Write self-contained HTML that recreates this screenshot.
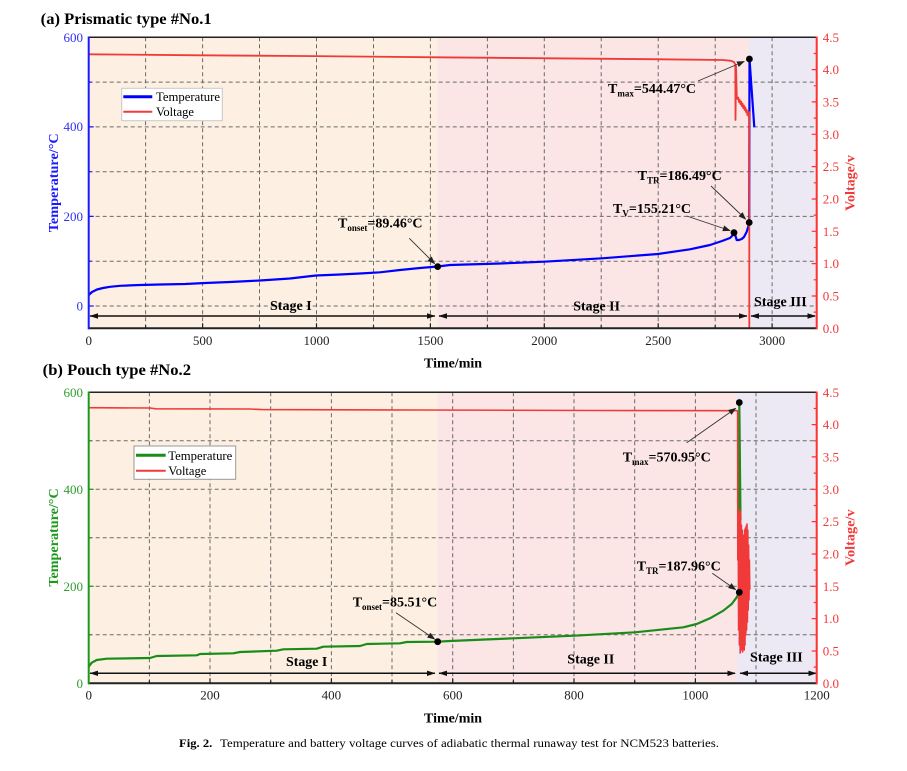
<!DOCTYPE html>
<html><head><meta charset="utf-8"><style>
html,body{margin:0;padding:0;background:#fff;}
svg{display:block;}
text{font-family:"Liberation Serif","DejaVu Serif",serif;}
.b{font-weight:bold;}
</style></head><body>
<svg width="907" height="771" viewBox="0 0 907 771" xmlns="http://www.w3.org/2000/svg">
<defs>
<marker id="ah" markerUnits="userSpaceOnUse" markerWidth="8" markerHeight="6" refX="7" refY="3" orient="auto">
<path d="M0,0 L8,3 L0,6 Z" fill="#222"/>
</marker>
</defs>

<!-- ============ TOP CHART ============ -->
<text x="40.7" y="24" class="b" font-size="16" textLength="171" lengthAdjust="spacingAndGlyphs">(a) Prismatic type #No.1</text>
<!-- backgrounds -->
<rect x="88.7" y="37.3" width="348.6" height="291" fill="#fdf0e2"/>
<rect x="437.3" y="37.3" width="311.7" height="291" fill="#fbe5e5"/>
<rect x="749" y="37.3" width="67.7" height="291" fill="#ede9f4"/>
<!-- grid -->
<g stroke="#6a6a6a" stroke-width="1" stroke-dasharray="4,3" fill="none">
<path d="M145.6,37.3V328.3M202.6,37.3V328.3M259.5,37.3V328.3M316.5,37.3V328.3M373.5,37.3V328.3M430.4,37.3V328.3M487.4,37.3V328.3M544.3,37.3V328.3M601.2,37.3V328.3M658.2,37.3V328.3M715.2,37.3V328.3M772.1,37.3V328.3"/>
<path d="M88.7,306H816.7M88.7,261.2H816.7M88.7,216.4H816.7M88.7,171.7H816.7M88.7,126.9H816.7M88.7,82.1H816.7"/>
</g>
<!-- stage arrows -->
<g stroke="#111" stroke-width="1.5"><path d="M90,316H435M439,316H747M751,316H815"/></g>
<g fill="#111">
<polygon points="89.5,316 98,313.3 98,318.7"/><polygon points="435.5,316 427,313.3 427,318.7"/>
<polygon points="438.5,316 447,313.3 447,318.7"/><polygon points="747.5,316 739,313.3 739,318.7"/>
<polygon points="750.5,316 759,313.3 759,318.7"/><polygon points="816,316 807.5,313.3 807.5,318.7"/>
</g>
<text x="270" y="310" class="b" font-size="14" textLength="41.7" lengthAdjust="spacingAndGlyphs">Stage I</text>
<text x="573.3" y="310.5" class="b" font-size="14" textLength="46.7" lengthAdjust="spacingAndGlyphs">Stage II</text>
<text x="754" y="306" class="b" font-size="14" textLength="52.7" lengthAdjust="spacingAndGlyphs">Stage III</text>
<!-- temperature (blue) -->
<path d="M88.7,295 L92,292 L97,289.5 L103,288 L110,286.8 L120,285.8 L140,285 L160,284.5 L185,284 L205,283 L230,282 L260,280.5 L290,278.5 L316,275.5 L340,274.5 L360,273.5 L380,272.3 L400,270 L420,268 L437.7,266.5 L450,265 L500,263.5 L544,261.7 L602,258.3 L658,254 L690,249.3 L710,245 L722,241 L730,238 L733,235 L734.5,233 L735.5,236 L736.7,240 L739,240 L741.7,239 L744,237 L746.7,231.7 L748.5,226 L749.2,222.3 L749.5,59 L754.3,127.3" fill="none" stroke="#0000ff" stroke-width="2.2" stroke-linejoin="round"/>
<!-- voltage (red) -->
<path d="M88.7,54.3 L200,55.3 L300,56 L437,57.3 L550,58.3 L650,59.2 L723,60 L731,60.8 L734,62 L735.3,64.5 L735.5,120 L736,66 L736.8,97 L737.6,99 L738.3,97.5 L739,102 L739.7,100 L740.4,104 L741.1,101.5 L741.8,106 L742.5,103.5 L743.2,108 L743.9,105.5 L744.6,110 L745.3,107.5 L746,112 L746.7,110 L747.4,115 L748.1,112 L748.8,117 L749.3,112 L749.3,328" fill="none" stroke="#f03a3a" stroke-width="1.8" stroke-linejoin="round"/>
<!-- dots -->
<g fill="#000"><circle cx="437.7" cy="266.6" r="3.4"/><circle cx="749.4" cy="59" r="3.4"/><circle cx="749.2" cy="222.5" r="3.4"/><circle cx="734" cy="232.7" r="3.4"/></g>
<!-- annotation arrows -->
<g stroke="#333" stroke-width="0.9" fill="none" marker-end="url(#ah)">
<path d="M409.3,238.3 L434.5,263.5"/>
<path d="M698,81 L744,61.5"/>
<path d="M711,186 L745.5,219"/>
<path d="M686.7,216 L729.8,230.5"/>
</g>
<g class="b" font-size="14">
<text x="338" y="227.5" class="b">T<tspan font-size="9" dy="3.5">onset</tspan><tspan dy="-3.5">=89.46°C</tspan></text>
<text x="608" y="93" class="b">T<tspan font-size="9" dy="3.5">max</tspan><tspan dy="-3.5">=544.47°C</tspan></text>
<text x="637.7" y="180" class="b">T<tspan font-size="9" dy="3.5">TR</tspan><tspan dy="-3.5">=186.49°C</tspan></text>
<text x="613" y="213" class="b">T<tspan font-size="9" dy="3.5">V</tspan><tspan dy="-3.5">=155.21°C</tspan></text>
</g>
<!-- legend -->
<rect x="121.7" y="88.3" width="100.6" height="32.4" fill="#fff" stroke="#c8c8c8" stroke-width="1"/>
<line x1="123.3" y1="96.7" x2="152.3" y2="96.7" stroke="#0000ff" stroke-width="3"/>
<line x1="123.3" y1="111.7" x2="152.3" y2="111.7" stroke="#f03a3a" stroke-width="2"/>
<text x="156" y="101.2" font-size="12.5" textLength="64" lengthAdjust="spacingAndGlyphs">Temperature</text>
<text x="156" y="116.2" font-size="12.5">Voltage</text>
<!-- axes -->
<line x1="88" y1="37.3" x2="817.5" y2="37.3" stroke="#222" stroke-width="1.5"/>
<line x1="88" y1="328.3" x2="817.5" y2="328.3" stroke="#222" stroke-width="2"/>
<line x1="88.7" y1="36.5" x2="88.7" y2="329.3" stroke="#1a1aff" stroke-width="2"/>
<line x1="816.7" y1="36.5" x2="816.7" y2="329.3" stroke="#ff3030" stroke-width="2"/>
<g stroke="#1a1aff" stroke-width="1.2">
<path d="M88.7,306h5M88.7,261.2h3M88.7,216.4h5M88.7,171.7h3M88.7,126.9h5M88.7,82.1h3"/>
</g>
<g stroke="#222" stroke-width="1.2">
<path d="M145.6,328.3v-3M202.6,328.3v-5M259.5,328.3v-3M316.5,328.3v-5M373.5,328.3v-3M430.4,328.3v-5M487.4,328.3v-3M544.3,328.3v-5M601.2,328.3v-3M658.2,328.3v-5M715.2,328.3v-3M772.1,328.3v-5"/>
</g>
<g stroke="#ff3030" stroke-width="1.2">
<path d="M816.7,296h-5M816.7,263.6h-5M816.7,231.3h-5M816.7,199h-5M816.7,166.6h-5M816.7,134.3h-5M816.7,101.9h-5M816.7,69.6h-5M816.7,312.1h-3M816.7,279.8h-3M816.7,247.5h-3M816.7,215.1h-3M816.7,182.8h-3M816.7,150.5h-3M816.7,118.1h-3M816.7,85.8h-3M816.7,53.5h-3"/>
</g>
<g font-size="13" fill="#3030f2" text-anchor="end">
<text x="83" y="41.8">600</text><text x="83" y="131.2">400</text><text x="83" y="221.2">200</text><text x="83" y="310.5">0</text>
</g>
<g font-size="13" fill="#222" text-anchor="middle">
<text x="88.7" y="345">0</text><text x="202.6" y="345">500</text><text x="316.5" y="345">1000</text><text x="430.4" y="345">1500</text><text x="544.3" y="345">2000</text><text x="658.2" y="345">2500</text><text x="772.1" y="345">3000</text>
</g>
<g font-size="13" fill="#f03a3a">
<text x="822.7" y="332.8">0.0</text><text x="822.7" y="300.5">0.5</text><text x="822.7" y="268.1">1.0</text><text x="822.7" y="235.8">1.5</text><text x="822.7" y="203.5">2.0</text><text x="822.7" y="171.1">2.5</text><text x="822.7" y="138.8">3.0</text><text x="822.7" y="106.4">3.5</text><text x="822.7" y="74.1">4.0</text><text x="822.7" y="41.8">4.5</text>
</g>
<text transform="translate(58,182.8) rotate(-90)" text-anchor="middle" class="b" font-size="13.5" fill="#1a1aff" textLength="99" lengthAdjust="spacingAndGlyphs">Temperature/°C</text>
<text transform="translate(854.5,183) rotate(-90)" text-anchor="middle" class="b" font-size="13.5" fill="#f03a3a" textLength="55.7" lengthAdjust="spacingAndGlyphs">Voltage/v</text>
<text x="453" y="367.5" text-anchor="middle" class="b" font-size="14" textLength="58" lengthAdjust="spacingAndGlyphs">Time/min</text>

<!-- ============ BOTTOM CHART ============ -->
<text x="42.7" y="375" class="b" font-size="16" textLength="148.3" lengthAdjust="spacingAndGlyphs">(b) Pouch type #No.2</text>
<rect x="88.7" y="392.3" width="348.6" height="291" fill="#fdf0e2"/>
<rect x="437.3" y="392.3" width="299.7" height="291" fill="#fbe5e5"/>
<rect x="737" y="392.3" width="79.7" height="291" fill="#ede9f4"/>
<g stroke="#6a6a6a" stroke-width="1" stroke-dasharray="4,3" fill="none">
<path d="M149.4,392.3V683.3M210,392.3V683.3M270.7,392.3V683.3M331.4,392.3V683.3M392,392.3V683.3M452.7,392.3V683.3M513.4,392.3V683.3M574,392.3V683.3M634.7,392.3V683.3M695.4,392.3V683.3M756,392.3V683.3"/>
<path d="M88.7,634.8H816.7M88.7,586.3H816.7M88.7,537.8H816.7M88.7,489.3H816.7M88.7,440.8H816.7"/>
</g>
<g stroke="#111" stroke-width="1.5"><path d="M90,673.3H435M439,673.3H735M740,673.3H816"/></g>
<g fill="#111">
<polygon points="89.5,673.3 98,670.6 98,676"/><polygon points="435.5,673.3 427,670.6 427,676"/>
<polygon points="438.5,673.3 447,670.6 447,676"/><polygon points="736,673.3 727.5,670.6 727.5,676"/>
<polygon points="739.5,673.3 748,670.6 748,676"/><polygon points="817,673.3 808.5,670.6 808.5,676"/>
</g>
<text x="286" y="666" class="b" font-size="14" textLength="41.3" lengthAdjust="spacingAndGlyphs">Stage I</text>
<text x="567.3" y="663.3" class="b" font-size="14" textLength="47" lengthAdjust="spacingAndGlyphs">Stage II</text>
<text x="750" y="661.7" class="b" font-size="14" textLength="52.7" lengthAdjust="spacingAndGlyphs">Stage III</text>
<!-- temperature (green) -->
<path d="M88.7,666.7 L91.7,662.7 L96.7,660 L106.7,658.7 L150,658 L156.7,656 L196.7,655.3 L200,654 L233.3,653.3 L240,652 L276.7,650.7 L283.3,649.3 L316.7,648.7 L323.3,646.7 L360,646 L366.7,644 L400,643.3 L406.7,642 L437.7,641.7 L450,641 L513.3,638.3 L574.3,635.7 L635,632.3 L683.3,627.3 L696.7,624 L710,618.3 L723.3,610.7 L731.7,604 L736.7,597.3 L739.3,592.3 L739.3,402.5 L740.5,520" fill="none" stroke="#1a8c1a" stroke-width="2.2" stroke-linejoin="round"/>
<!-- voltage (red) -->
<path d="M88.7,407.7 L150,408 L156,408.8 L250,409 L262,409.6 L420,410 L600,410.5 L737,410.7 L737.6,411 L737.8,560 L738.2,515 L738.6,630 L739,512 L739.4,645 L739.8,510 L740.2,653 L740.6,512 L741,650 L741.4,525 L741.8,640 L742.2,530 L742.6,652 L743,538 L743.4,645 L743.8,535 L744.2,650 L744.6,530 L745,645 L745.4,528 L745.8,635 L746.2,526 L746.6,630 L747,524 L747.4,622 L747.8,530 L748.2,610 L748.6,545 L749,600 L749.4,560 L749.8,590" fill="none" stroke="#f03a3a" stroke-width="1.6" stroke-linejoin="round"/>
<g fill="#000"><circle cx="437.7" cy="641.7" r="3.4"/><circle cx="739.3" cy="402.5" r="3.4"/><circle cx="739.3" cy="592.3" r="3.4"/></g>
<g stroke="#333" stroke-width="0.9" fill="none" marker-end="url(#ah)">
<path d="M396,612.7 L434.5,639"/>
<path d="M686.7,442.7 L735.5,408.5"/>
<path d="M712.3,573.3 L735.5,589.5"/>
</g>
<g font-size="14">
<text x="352.7" y="606.5" class="b">T<tspan font-size="9" dy="3.5">onset</tspan><tspan dy="-3.5">=85.51°C</tspan></text>
<text x="622.7" y="461.5" class="b">T<tspan font-size="9" dy="3.5">max</tspan><tspan dy="-3.5">=570.95°C</tspan></text>
<text x="636.7" y="570.5" class="b">T<tspan font-size="9" dy="3.5">TR</tspan><tspan dy="-3.5">=187.96°C</tspan></text>
</g>
<rect x="134" y="446" width="101.7" height="33.3" fill="#fff" stroke="#999" stroke-width="1"/>
<line x1="136" y1="455.3" x2="165.7" y2="455.3" stroke="#1a8c1a" stroke-width="3"/>
<line x1="136" y1="470.7" x2="165.7" y2="470.7" stroke="#f03a3a" stroke-width="2"/>
<text x="168.3" y="459.8" font-size="12.5" textLength="64" lengthAdjust="spacingAndGlyphs">Temperature</text>
<text x="168.3" y="475.2" font-size="12.5">Voltage</text>
<line x1="88" y1="392.3" x2="817.5" y2="392.3" stroke="#222" stroke-width="1.5"/>
<line x1="88" y1="683.3" x2="817.5" y2="683.3" stroke="#222" stroke-width="2"/>
<line x1="88.7" y1="391.5" x2="88.7" y2="684.3" stroke="#1a9a1a" stroke-width="2"/>
<line x1="816.7" y1="391.5" x2="816.7" y2="684.3" stroke="#ff3030" stroke-width="2"/>
<g stroke="#1a9a1a" stroke-width="1.2">
<path d="M88.7,634.8h3M88.7,586.3h5M88.7,537.8h3M88.7,489.3h5M88.7,440.8h3"/>
</g>
<g stroke="#222" stroke-width="1.2">
<path d="M149.4,683.3v-3M210,683.3v-5M270.7,683.3v-3M331.4,683.3v-5M392,683.3v-3M452.7,683.3v-5M513.4,683.3v-3M574,683.3v-5M634.7,683.3v-3M695.4,683.3v-5M756,683.3v-3"/>
</g>
<g stroke="#ff3030" stroke-width="1.2">
<path d="M816.7,651h-5M816.7,618.6h-5M816.7,586.3h-5M816.7,554h-5M816.7,521.6h-5M816.7,489.3h-5M816.7,456.9h-5M816.7,424.6h-5M816.7,667.1h-3M816.7,634.8h-3M816.7,602.5h-3M816.7,570.1h-3M816.7,537.8h-3M816.7,505.5h-3M816.7,473.1h-3M816.7,440.8h-3M816.7,408.5h-3"/>
</g>
<g font-size="13" fill="#2e9e2e" text-anchor="end">
<text x="83" y="396.8">600</text><text x="83" y="493.8">400</text><text x="83" y="590.8">200</text><text x="83" y="687.8">0</text>
</g>
<g font-size="13" fill="#222" text-anchor="middle">
<text x="88.7" y="699.5">0</text><text x="210" y="699.5">200</text><text x="331.4" y="699.5">400</text><text x="452.7" y="699.5">600</text><text x="574" y="699.5">800</text><text x="695.4" y="699.5">1000</text><text x="816.7" y="699.5">1200</text>
</g>
<g font-size="13" fill="#f03a3a">
<text x="822.7" y="687.8">0.0</text><text x="822.7" y="655.5">0.5</text><text x="822.7" y="623.1">1.0</text><text x="822.7" y="590.8">1.5</text><text x="822.7" y="558.5">2.0</text><text x="822.7" y="526.1">2.5</text><text x="822.7" y="493.8">3.0</text><text x="822.7" y="461.4">3.5</text><text x="822.7" y="429.1">4.0</text><text x="822.7" y="396.8">4.5</text>
</g>
<text transform="translate(58,537.5) rotate(-90)" text-anchor="middle" class="b" font-size="13.5" fill="#1a9a1a" textLength="98.3" lengthAdjust="spacingAndGlyphs">Temperature/°C</text>
<text transform="translate(854.5,537.7) rotate(-90)" text-anchor="middle" class="b" font-size="13.5" fill="#f03a3a" textLength="56.7" lengthAdjust="spacingAndGlyphs">Voltage/v</text>
<text x="453" y="722.5" text-anchor="middle" class="b" font-size="14" textLength="58" lengthAdjust="spacingAndGlyphs">Time/min</text>

<!-- caption -->
<text x="179" y="747" font-size="12" class="b" textLength="33.3" lengthAdjust="spacingAndGlyphs">Fig. 2.</text>
<text x="220" y="747" font-size="12" textLength="499" lengthAdjust="spacingAndGlyphs">Temperature and battery voltage curves of adiabatic thermal runaway test for NCM523 batteries.</text>
</svg>
</body></html>
